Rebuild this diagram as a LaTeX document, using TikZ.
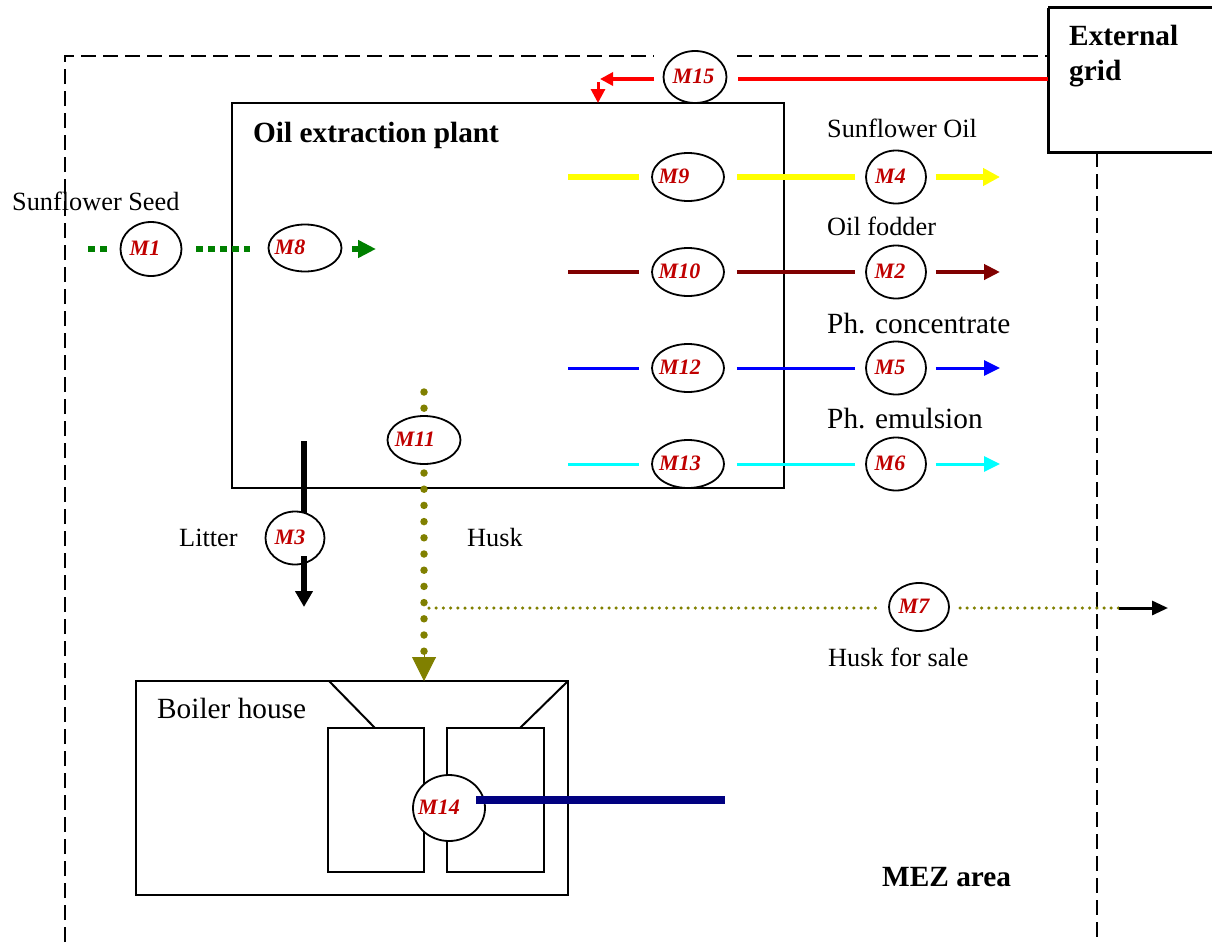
\documentclass[tikz,border=0pt]{standalone}
\usepackage{fontspec}
\setmainfont{Liberation Serif}
\usetikzlibrary{shapes.geometric,arrows.meta}
\definecolor{cYel}{HTML}{FFFF00}
\definecolor{cBrown}{HTML}{800000}
\definecolor{cBlue}{HTML}{0000FF}
\definecolor{cCyan}{HTML}{00FFFF}
\definecolor{cGreen}{HTML}{008000}
\definecolor{cOlive}{HTML}{808000}
\definecolor{cNavy}{HTML}{000080}
\definecolor{cRed}{HTML}{FF0000}
\definecolor{mRed}{HTML}{C00000}
\newcommand\fsa{\fontsize{26.3}{30}\selectfont}
\newcommand\fsb{\fontsize{29.3}{34}\selectfont}
\newcommand\fsm{\fontsize{22}{26}\selectfont\bfseries\itshape}
% label text shifted left by half of #2 inside its ellipse
\newcommand\mtxt[2]{\raisebox{2pt}{\hbox to 0pt{\hss #1\hskip #2pt\hss}}}
\begin{document}
\begin{tikzpicture}[x=1pt,y=-1pt,
  mnode/.style={ellipse, draw, line width=1.8pt, fill=white, inner sep=0pt, text=mRed, font=\fsm},
  rowm/.style={mnode, minimum width=72pt, minimum height=48pt},
  outm/.style={mnode, minimum width=60pt, minimum height=53pt},
  lbl/.style={anchor=base west, inner sep=0pt, font=\fsa},
  lblb/.style={anchor=base west, inner sep=0pt, font=\fsb},
  ttl/.style={anchor=base west, inner sep=0pt, font=\fsb\bfseries},
  mez/.style={line width=2pt, dash pattern=on 15pt off 7pt},
  yl/.style={cYel, line width=6.5pt},
  br/.style={cBrown, line width=4pt},
  bl/.style={cBlue, line width=3pt},
  cy/.style={cCyan, line width=3pt},
  headA/.style={-{Triangle[length=17pt,width=17pt]}},
  headB/.style={-{Triangle[length=16pt,width=15pt]}},
]
\useasboundingbox (0,0) rectangle (1212,942);

% MEZ area border
\draw[mez] (65,942) -- (65,56) -- (654,56);
\draw[mez] (737,56) -- (1048,56);
\draw[mez] (1097,152) -- (1097,942);

% External grid
\draw[line width=3pt] (1048,8) -- (1215,8) (1048,8) -- (1048,152) -- (1215,152);
\node[ttl] (extA) at (1069,46) {External};
\node[ttl] (extB) at (1069,80) {grid};

% Oil extraction plant
\draw[line width=2.5pt] (232,103) rectangle (784,488);
\node[ttl] (oep) at (253,142) {Oil extraction plant};

% Boiler house
\draw[line width=2pt] (136,681) rectangle (568,895);
\node[lblb] (bh) at (157,718) {Boiler house};
\draw[line width=2pt] (328,728) rectangle (424,872);
\draw[line width=2pt] (447,728) rectangle (544,872);
\draw[line width=2pt] (329,681) -- (375,728);
\draw[line width=2pt] (568,681) -- (520,728);

% Labels
\node[lbl] (tSeed) at (12,210) {Sunflower Seed};
\node[lbl] (tOil) at (827,137) {Sunflower Oil};
\node[lbl] (tFod) at (827,235) {Oil fodder};
\node[lblb] (tCon) at (827,333) {Ph. concentrate};
\node[lblb] (tEmu) at (827,428) {Ph. emulsion};
\node[lbl] (tLit) at (179,546) {Litter};
\node[lbl] (tHusk) at (467,546) {Husk};
\node[lbl] (tSale) at (828,666) {Husk for sale};
\node[ttl] (tMez) at (882,886) {MEZ area};

% Husk dotted lines (behind nodes)
\coordinate (hTop) at (424,392);
\coordinate (hBot) at (424,652);
\coordinate (hHead) at (424,652);
\coordinate (hTip) at (424,681);
\coordinate (hBr) at (429,608);
\draw[cOlive, line width=7.5pt, line cap=round, dash pattern=on 0pt off 16.2pt] (hTop) -- (hBot);
\draw[cOlive, line width=1pt, -{Triangle[length=24pt,width=24pt]}] (hHead) -- (hTip);

% Nodes
\node[mnode, minimum width=63pt, minimum height=52pt] (M15) at (695,77) {\mtxt{M15}{3}};
\node[mnode, minimum width=61pt, minimum height=54pt] (M1) at (151,249) {\mtxt{M1}{12}};
\node[mnode, minimum width=73pt, minimum height=47pt] (M8) at (305,248) {\mtxt{M8}{30}};
\node[rowm] (M9) at (688,177) {\mtxt{M9}{28}};
\node[outm] (M4) at (896,177) {\mtxt{M4}{11}};
\node[rowm] (M10) at (688,272) {\mtxt{M10}{17}};
\node[outm] (M2) at (896,272) {\mtxt{M2}{12}};
\node[rowm] (M12) at (688,368) {\mtxt{M12}{16}};
\node[outm] (M5) at (896,368) {\mtxt{M5}{12}};
\node[rowm] (M13) at (688,464) {\mtxt{M13}{16}};
\node[outm] (M6) at (896,464) {\mtxt{M6}{12}};
\node[mnode, minimum width=73pt, minimum height=48pt] (M11) at (424,440) {\mtxt{M11}{18}};
\node[mnode, minimum width=59pt, minimum height=53pt] (M3) at (295,538) {\mtxt{M3}{10}};
\node[mnode, minimum width=60pt, minimum height=48pt] (M7) at (919,607) {\mtxt{M7}{10}};
\node[mnode, minimum width=72pt, minimum height=66pt] (M14) at (449,808) {\mtxt{M14}{20}};

% Red electricity line M15
\coordinate (rS) at (738,79);
\coordinate (rE) at (1048,79);
\coordinate (rL) at (654,79);
\coordinate (rTip) at (600,79);
\coordinate (rV1) at (598,82);
\coordinate (rV2) at (598,103);
\draw[cRed, line width=4pt] (rE) -- (rS);
\draw[cRed, line width=4pt, -{Triangle[length=13pt,width=13pt]}] (rL) -- (rTip);
\draw[cRed, line width=3pt, -{Triangle[length=14pt,width=14pt]}] (rV1) -- (rV2);

% Sunflower seed (green)
\coordinate (g0) at (88,249);
\coordinate (g1) at (108,249);
\coordinate (g2) at (196,249);
\coordinate (g3) at (250,249);
\coordinate (g4) at (352,249);
\coordinate (g5) at (376,249);
\draw[cGreen, line width=6pt, dash pattern=on 7pt off 5pt] (g0) -- (g1);
\draw[cGreen, line width=6pt, dash pattern=on 7pt off 5pt] (g2) -- (g3);
\draw[cGreen, line width=6pt, -{Triangle[length=18pt,width=17pt]}] (g4) -- (g5);

% Product rows
\coordinate (s9) at (568,177);  \coordinate (e4) at (1000,177);
\coordinate (s10) at (568,272); \coordinate (e2) at (1000,272);
\coordinate (s12) at (568,368); \coordinate (e5) at (1000,368);
\coordinate (s13) at (568,464); \coordinate (e6) at (1000,464);

\draw[yl] (s9) -- ([xshift=-12pt]M9.west);
\draw[yl] ([xshift=12pt]M9.east) -- ([xshift=-10pt]M4.west);
\draw[yl, headA] ([xshift=9pt]M4.east) -- (e4);

\draw[br] (s10) -- ([xshift=-12pt]M10.west);
\draw[br] ([xshift=12pt]M10.east) -- ([xshift=-10pt]M2.west);
\draw[br, headB] ([xshift=9pt]M2.east) -- (e2);

\draw[bl] (s12) -- ([xshift=-12pt]M12.west);
\draw[bl] ([xshift=12pt]M12.east) -- ([xshift=-10pt]M5.west);
\draw[bl, headB] ([xshift=9pt]M5.east) -- (e5);

\draw[cy] (s13) -- ([xshift=-12pt]M13.west);
\draw[cy] ([xshift=12pt]M13.east) -- ([xshift=-10pt]M6.west);
\draw[cy, headB] ([xshift=9pt]M6.east) -- (e6);

% Litter
\coordinate (l0) at (304,441);
\coordinate (l1) at (304,513);
\coordinate (l2) at (304,556);
\coordinate (l3) at (304,607);
\draw[line width=6pt] (l0) -- (l1);
\draw[line width=6pt, -{Triangle[length=16pt,width=17pt]}] (l2) -- (l3);

% Husk for sale
\coordinate (k1) at (880,608);
\coordinate (k2) at (960,608);
\coordinate (k3) at (1119,608);
\coordinate (k4) at (1168,608);
\draw[cOlive, line width=3.5pt, line cap=round, dash pattern=on 0pt off 7.2pt] (hBr) -- (k1);
\draw[cOlive, line width=3.5pt, line cap=round, dash pattern=on 0pt off 7.2pt] (k2) -- (k3);
\draw[line width=3pt, -{Triangle[length=16pt,width=14pt]}] (k3) -- (k4);

% Boiler output (navy)
\coordinate (n1) at (476,800);
\coordinate (n2) at (725,800);
\draw[cNavy, line width=8pt] (n1) -- (n2);
\end{tikzpicture}
\end{document}
